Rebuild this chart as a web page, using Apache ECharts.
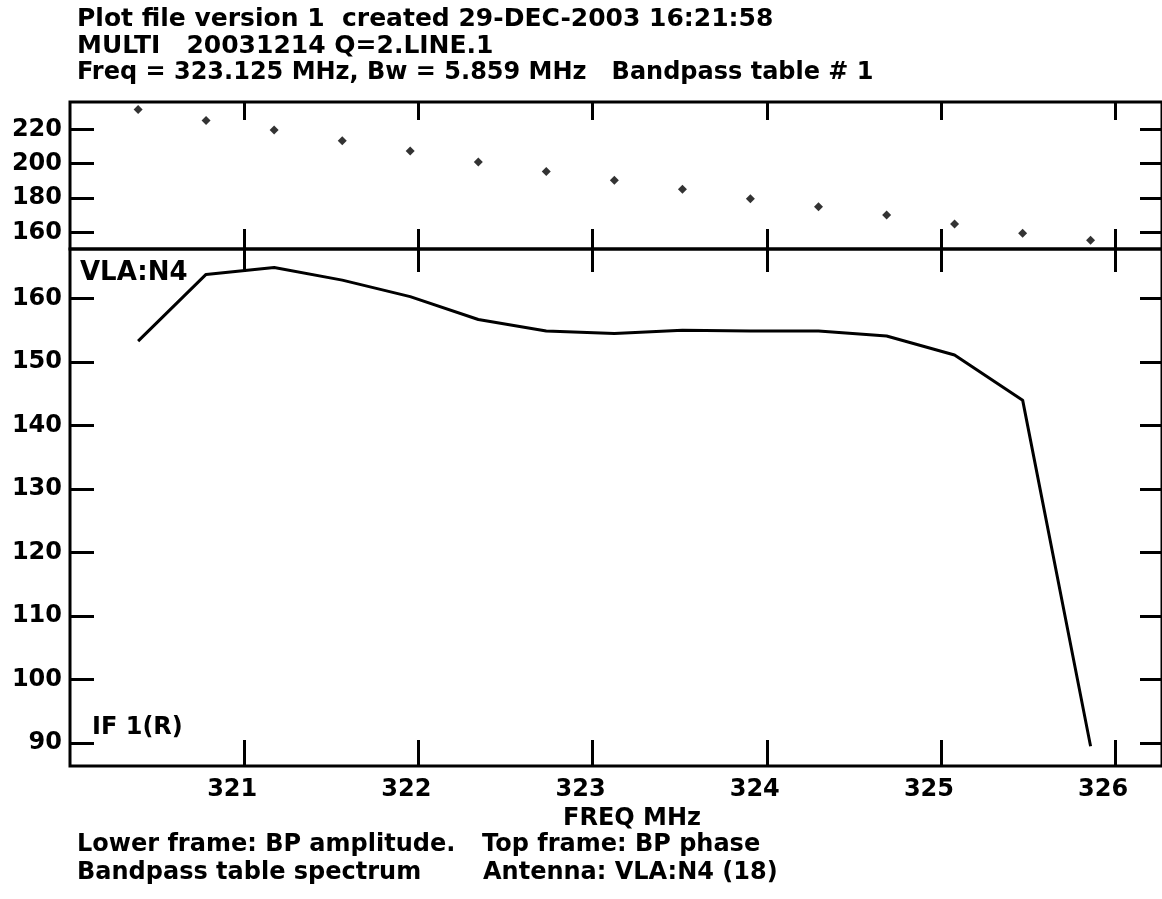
<!DOCTYPE html>
<html>
<head>
<meta charset="utf-8">
<script src="https://cdn.jsdelivr.net/npm/echarts@6/dist/echarts.min.js"></script>
<style>
  html, body { margin: 0; padding: 0; background: #fff; }
  #chart { width: 1162px; height: 899px; }
</style>
</head>
<body>
<div id="chart"></div>
<script>
// channel centre frequencies, MHz
const freq = [320.391, 320.781, 321.172, 321.563, 321.953, 322.344, 322.734, 323.125,
  323.516, 323.906, 324.297, 324.688, 325.078, 325.469, 325.859]
// top frame: BP phase
const phase = [231.6, 225.2, 219.6, 213.4, 207.4, 201.0, 195.5, 190.3, 185.1, 179.6,
  174.9, 170.1, 164.8, 159.4, 155.4]
// lower frame: BP amplitude
const amp = [153.3, 163.8, 164.9, 162.9, 160.3, 156.7, 154.9, 154.5, 155.0, 154.9,
  154.9, 154.1, 151.1, 144.0, 89.5]

const xTicks = [321, 322, 323, 324, 325, 326]
const phaseTicks = [160, 180, 200, 220]
const ampTicks = [90, 100, 110, 120, 130, 140, 150, 160]

const FONT = 'DejaVu Sans'
const ink = '#000'

const chart = echarts.init(document.getElementById('chart'), null, { renderer: 'canvas' })

// x axis: ticks only, pointing inside the frame
function xAx(grid, pos, len, labels) {
  return {
    type: 'value', gridIndex: grid, position: pos,
    min: 320, max: 326.269,
    axisLine: { show: false },
    splitLine: { show: false },
    axisTick: { show: true, inside: true, length: len, customValues: xTicks,
      lineStyle: { color: ink, width: 3 } },
    axisLabel: labels ? {
      show: true, customValues: xTicks, margin: 12,
      padding: [0, 24, 0, 0], // labels sit a little left of their tick
      color: ink, fontFamily: FONT, fontWeight: 'bold', fontSize: 24
    } : { show: false }
  }
}

function yAx(grid, pos, min, max, ticks, len, labels) {
  return {
    type: 'value', gridIndex: grid, position: pos,
    min: min, max: max,
    axisLine: { show: false },
    splitLine: { show: false },
    axisTick: { show: true, inside: true, length: len, customValues: ticks,
      lineStyle: { color: ink, width: 3 } },
    axisLabel: labels ? {
      show: true, customValues: ticks, margin: 8,
      color: ink, fontFamily: FONT, fontWeight: 'bold', fontSize: 24
    } : { show: false }
  }
}

function txt(x, y, s, size, align) {
  return {
    type: 'text', x: x, y: y,
    style: { text: s, fill: ink, font: 'bold ' + size + 'px "' + FONT + '"',
      textAlign: align || 'left', textVerticalAlign: 'top' }
  }
}

const option = {
  animation: false,
  backgroundColor: '#fff',
  grid: [
    { left: 70, right: -5, top: 102, height: 147, show: true,
      borderColor: ink, borderWidth: 3, backgroundColor: 'transparent' },
    { left: 70, right: -5, top: 249, height: 517, show: true,
      borderColor: ink, borderWidth: 3, backgroundColor: 'transparent' }
  ],
  xAxis: [
    xAx(0, 'top', 18, false),
    xAx(0, 'bottom', 20, false),
    xAx(1, 'top', 23, false),
    xAx(1, 'bottom', 26, true)
  ],
  yAxis: [
    yAx(0, 'left', 150.3, 235.9, phaseTicks, 24, true),
    yAx(0, 'right', 150.3, 235.9, phaseTicks, 22, false),
    yAx(1, 'left', 86.4, 167.8, ampTicks, 24, true),
    yAx(1, 'right', 86.4, 167.8, ampTicks, 22, false)
  ],
  series: [
    {
      name: 'BP phase', type: 'scatter', xAxisIndex: 0, yAxisIndex: 0,
      symbol: 'diamond', symbolSize: 9,
      itemStyle: { color: ink },
      data: freq.map((f, i) => [f, phase[i]])
    },
    {
      name: 'BP amplitude', type: 'line', xAxisIndex: 3, yAxisIndex: 2,
      showSymbol: false,
      lineStyle: { color: ink, width: 3 },
      data: freq.map((f, i) => [f, amp[i]])
    }
  ],
  graphic: [
    txt(77, 7, 'Plot file version 1  created 29-DEC-2003 16:21:58', 25),
    txt(77, 34, 'MULTI   20031214 Q=2.LINE.1', 25),
    txt(77, 61, 'Freq = 323.125 MHz, Bw = 5.859 MHz   Bandpass table # 1', 24),
    txt(80, 260, 'VLA:N4', 26),
    txt(92, 716, 'IF 1(R)', 24),
    txt(632, 807, 'FREQ MHz', 24, 'center'),
    txt(77, 833, 'Lower frame: BP amplitude.', 24),
    txt(482, 833, 'Top frame: BP phase', 24),
    txt(77, 861, 'Bandpass table spectrum', 24),
    txt(483, 861, 'Antenna: VLA:N4 (18)', 24)
  ]
}

chart.setOption(option)
</script>
</body>
</html>
